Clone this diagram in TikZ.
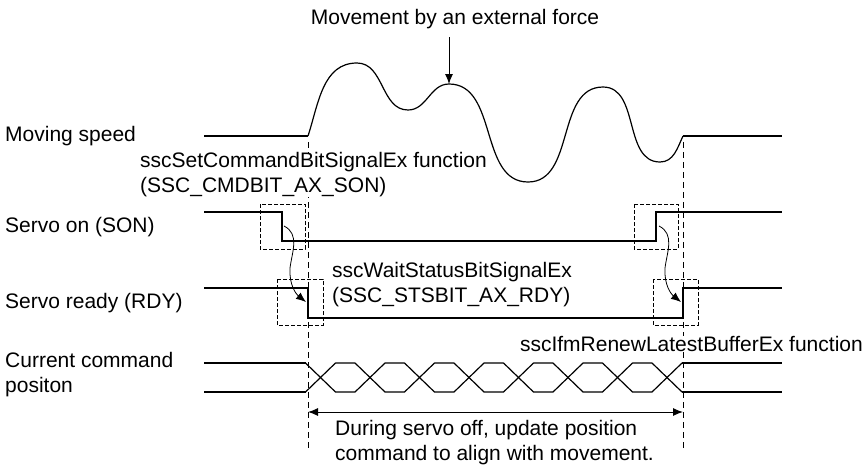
\documentclass[tikz,border=0pt]{standalone}
\usepackage{fontspec}
\setmainfont{Liberation Sans}
\usetikzlibrary{arrows.meta}
\begin{document}
\begin{tikzpicture}[x=1pt,y=-1pt,font=\fontsize{21}{25}\selectfont,
  sig/.style={line width=2pt},
  thinline/.style={line width=1.2pt},
  dbox/.style={line width=0.9pt,dash pattern=on 4pt off 2pt},
  vdash/.style={line width=1pt,dash pattern=on 6pt off 4pt},
  lbl/.style={inner sep=0pt,anchor=west,align=left},
  curvearrow/.style={-{Latex[length=10pt,width=8pt]},line width=0.8pt},
  bigtip/.style={-{Latex[length=10pt,width=8pt]},line width=1pt},
  dbl/.style={{Latex[length=10pt,width=8pt]}-{Latex[length=10pt,width=8pt]},line width=1pt}]
\useasboundingbox (0,0) rectangle (866,464);
\fill[white] (0,0) rectangle (866,464);

% vertical dashed guide lines
\coordinate (gl1) at (308,142); \coordinate (gl2) at (308,450);
\coordinate (gr1) at (683,142); \coordinate (gr2) at (683,450);
\draw[vdash] (gl1) -- (gl2);
\draw[vdash] (gr1) -- (gr2);

% labels
\node[inner sep=0pt] (tmove) at (455,19) {Movement by an external force};
\node[lbl] (tms) at (5,136) {Moving speed};
\node[lbl,fill=white] (tset) at (140,175) {sscSetCommandBitSignalEx function\\(SSC\_CMDBIT\_AX\_SON)};
\node[lbl] (tson) at (5,227) {Servo on (SON)};
\node[lbl] (trdy) at (5,303) {Servo ready (RDY)};
\node[lbl] (twait) at (332,285) {sscWaitStatusBitSignalEx\\(SSC\_STSBIT\_AX\_RDY)};
\node[lbl] (tcur) at (5,375) {Current command\\positon};
\node[lbl,anchor=east,fill=white] (tifm) at (863,344) {sscIfmRenewLatestBufferEx function};
\node[lbl] (tdur) at (335,443) {During servo off, update position\\command to align with movement.};

% moving speed
\coordinate (ms0) at (204,136); \coordinate (ms1) at (308,136);
\coordinate (ms2) at (683,136); \coordinate (ms3) at (782,136);
\coordinate (pk1) at (357,63); \coordinate (tr1) at (408,110);
\coordinate (pk2) at (449,84); \coordinate (tr2) at (528,182);
\coordinate (pk3) at (603,87); \coordinate (tr3) at (660,162);
\draw[sig] (ms0) -- (ms1);
\draw[sig] (ms2) -- (ms3);
\draw[thinline] (ms1) to[out=72,in=180] (pk1) to[out=0,in=180] (tr1)
  to[out=0,in=180] (pk2) to[out=0,in=180] (tr2) to[out=0,in=180] (pk3)
  to[out=0,in=180] (tr3) to[out=0,in=245] (ms2);
\coordinate (mvtop) at (449,37);
\draw[bigtip] (mvtop) -- (pk2);

% servo on
\draw[sig] (204,212) -- (282,212) -- (282,241) -- (656,241) -- (656,212) -- (782,212);
% servo ready
\draw[sig] (204,288) -- (308,288) -- (308,318) -- (683,318) -- (683,288) -- (782,288);

% dashed boxes
\draw[dbox] (260,204) rectangle (305,249);
\draw[dbox] (634,204) rectangle (678,249);
\draw[dbox] (277,279) rectangle (323,325);
\draw[dbox] (653,279) rectangle (698,325);

% curved arrows
\coordinate (ca1) at (284,226); \coordinate (ca2) at (290,268); \coordinate (ca3) at (306,302);
\draw[curvearrow] (ca1) .. controls (300,234) and (292,252) .. (ca2) .. controls (289,285) and (296,294) .. (ca3);
\coordinate (cb1) at (659,226); \coordinate (cb2) at (665,268); \coordinate (cb3) at (681,302);
\draw[curvearrow] (cb1) .. controls (675,234) and (667,252) .. (cb2) .. controls (664,285) and (671,294) .. (cb3);

% current command position
\draw[sig] (204,363) -- (305.5,363);
\draw[sig] (204,392) -- (305.5,392);
\draw[sig] (682,363) -- (782,363);
\draw[sig] (682,392) -- (782,392);
\draw[thinline,line join=round] (305.5,363) \foreach \k in {1,2,3} { -- ++(30,29) -- ++(19.5,0) -- ++(30,-29) -- ++(19.5,0) } -- ++(30,29) -- ++(19.5,0) -- ++(30,-29);
\draw[thinline,line join=round] (305.5,392) \foreach \k in {1,2,3} { -- ++(30,-29) -- ++(19.5,0) -- ++(30,29) -- ++(19.5,0) } -- ++(30,-29) -- ++(19.5,0) -- ++(30,29);

% span arrow
\coordinate (da) at (308,412); \coordinate (db) at (683,412);
\draw[dbl] (da) -- (db);
\end{tikzpicture}
\end{document}
